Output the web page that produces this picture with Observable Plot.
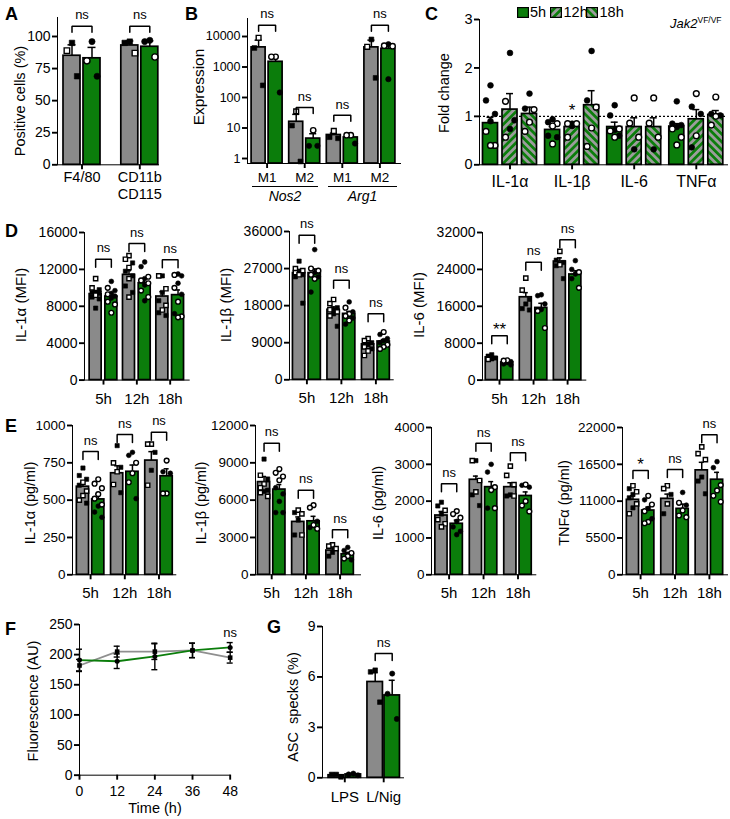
<!DOCTYPE html>
<html>
<head>
<meta charset="utf-8">
<script src="https://cdn.jsdelivr.net/npm/d3@7"></script>
<script src="https://cdn.jsdelivr.net/npm/@observablehq/plot@0.6"></script>
<style>
html,body{margin:0;padding:0;background:#fff;}
#fig{position:relative;width:730px;height:819px;overflow:hidden;font-family:"Liberation Sans",Arial,Helvetica,sans-serif;color:#000;background:#fff;}
#fig svg.chart{position:absolute;background:none;overflow:visible;max-width:none;}
#fig svg.chart g[aria-label*="axis"] line,#fig svg.chart g[aria-label*="axis"] path{stroke-width:1.9px;}
.t{position:absolute;white-space:nowrap;line-height:1;}
.c{transform:translate(-50%,-50%);}
.r{transform:translate(-50%,-50%) rotate(-90deg);}
.L{font-weight:bold;font-size:18px;}
.ul{position:absolute;height:0;border-top:1.3px solid #000;}
</style>
</head>
<body>
<svg width="0" height="0" style="position:absolute">
<defs>
<pattern id="p12" patternUnits="userSpaceOnUse" width="5.5" height="5.5" patternTransform="rotate(45)"><rect width="5.5" height="5.5" fill="#0b7d0b"/><rect width="2.75" height="5.5" fill="#9c9c9c"/></pattern>
<pattern id="p18" patternUnits="userSpaceOnUse" width="5.5" height="5.5" patternTransform="rotate(-45)"><rect width="5.5" height="5.5" fill="#0b7d0b"/><rect width="2.75" height="5.5" fill="#9c9c9c"/></pattern>
</defs>
</svg>
<div id="fig"></div>
<script>
// ---------------- DATA ----------------
// A
const aGroups = ["F4/80", "CD11b\nCD115"];
const aCtrlMean = [85, 93], aCtrlSem = [8.5, 3.5];
const aVfMean = [83, 92], aVfSem = [8.5, 4.5];
const aCtrlFilled = [[95, 69], [96, 95]], aCtrlOpen = [[89], [87]];
const aVfFilled = [[96, 69], [97, 96]], aVfOpen = [[81], [84]];
const aSig = ["ns", "ns"];
// B
const bGroups = ["M1", "M2", "M1", "M2"];
const bGenes = ["Nos2", "Arg1"];
const bCtrlMean = [4400, 16, 5.9, 4400], bCtrlSem = [3200, 12, 0.9, 3200];
const bVfMean = [1480, 4.5, 4.9, 3950], bVfSem = [700, 2, 0.9, 1300];
const bCtrlFilled = [[4200, 250], [12, 0.8], [5, 4.6], [8000, 440]];
const bCtrlOpen = [[9100], [35], [8], [4600]];
const bVfFilled = [[146], [2.6, 2.6], [3.1], [5600, 400]];
const bVfOpen = [[2150, 2150], [8.4], [5.8, 5.8], [5000, 4800]];
const bSig = ["ns", "ns", "ns", "ns"];
// C
const cGroups = ["IL-1α", "IL-1β", "IL-6", "TNFα"];
const cTimes = ["5h", "12h", "18h"];
const c5Mean = [0.86, 0.72, 0.78, 0.79], c5Sem = [0.12, 0.07, 0.10, 0.06];
const c12Mean = [1.14, 0.78, 0.78, 0.94], c12Sem = [0.33, 0.02, 0.19, 0.20];
const c18Mean = [1.05, 1.23, 0.78, 1.03], c18Sem = [0.14, 0.30, 0.19, 0.09];
const c5Filled = [[1.64, 1.33, 1.05, 0.9], [0.94, 0.88, 0.60, 0.57], [1.23, 1.02, 0.72, 0.60], [1.31, 0.85, 0.82, 0.78]];
const c5Open = [[0.69, 0.40, 0.40], [0.85, 0.80, 0.43], [0.74, 0.70, 0.57], [0.74, 0.57, 0.41]];
const c12Filled = [[2.31, 0.92, 0.74], [0.85, 0.80], [0.32], [1.2, 1.05, 0.36]];
const c12Open = [[1.31, 0.57], [0.85, 0.85, 0.57], [1.38, 0.86, 0.57], [1.47, 0.6]];
const c18Filled = [[1.47, 1.16], [2.35, 1.33], [0.32], [1.05, 1.02]];
const c18Open = [[1.14, 0.88, 0.69], [1.19, 0.76, 0.38], [1.38, 0.86, 0.57], [1.40, 1.0, 0.82]];
const cBaseline = 1;
const cStar = "*";
// D / E time groups
const hours = ["5h", "12h", "18h"];
// D1 IL-1α MFI
const d1CtrlMean = [9320, 11410, 9060], d1CtrlSem = [380, 450, 520];
const d1VfMean = [9060, 10500, 9210], d1VfSem = [330, 500, 560];
const d1CtrlFilled = [[9500, 9800, 9500, 9400, 9000, 8800, 7800], [12700, 11800, 11300, 10200, 9500], [11300, 9500, 8600, 7300, 7000]];
const d1CtrlOpen = [[11000, 10000, 9200], [13500, 13100, 12200, 11000, 9000], [11300, 9900, 8100, 7600]];
const d1VfFilled = [[10700, 9700, 9400, 9100, 8900], [12800, 12300, 11000, 10300, 8600], [11500, 11300, 10500, 9300, 7200]];
const d1VfOpen = [[10000, 9300, 8500, 8200, 7300], [11200, 10800, 10500, 9700, 9000], [11400, 10000, 8500, 6800, 6900]];
const d1Sig = ["ns", "ns", "ns"];
// D2 IL-1β MFI
const d2CtrlMean = [25900, 17000, 8600], d2CtrlSem = [900, 700, 500];
const d2VfMean = [25900, 16000, 9300], d2VfSem = [1000, 600, 450];
const d2CtrlFilled = [[28800, 26000, 25500, 25000, 18600], [17500, 17000, 16000, 13000], [9000, 8500, 7500]];
const d2CtrlOpen = [[27000, 26500, 26000, 25500], [19500, 18500, 17000, 16500, 15500], [10000, 9500, 8000, 7000, 5900]];
const d2VfFilled = [[31600, 26000, 25000, 21300], [18900, 16500, 15000, 13500], [11000, 10000, 9500, 9000]];
const d2VfOpen = [[27000, 26500, 25500, 24500], [17500, 16000, 15500, 14400], [11600, 8500, 8000, 7500]];
const d2Sig = ["ns", "ns", "ns"];
// D3 IL-6 MFI
const d3CtrlMean = [4920, 17960, 25700], d3CtrlSem = [200, 1000, 800];
const d3VfMean = [3830, 15650, 22900], d3VfSem = [180, 1000, 800];
const d3CtrlFilled = [[5500, 5200, 4800, 4600], [17500, 16500, 15500, 15200], [26000, 25500, 24800, 22000]];
const d3CtrlOpen = [[4500], [22100, 19500], [27900, 25000]];
const d3VfFilled = [[4000, 3800, 3500, 3300], [18500, 18300, 16500, 15300], [25900, 24000, 23000, 22000]];
const d3VfOpen = [[4300, 4200], [15000, 11300], [23400, 20000]];
const d3Sig = ["**", "ns", "ns"];
// E1 IL-1α pg/ml
const e1CtrlMean = [590, 680, 765], e1CtrlSem = [30, 50, 60];
const e1VfMean = [505, 690, 660], e1VfSem = [35, 45, 50];
const e1CtrlFilled = [[715, 665, 640, 600, 480], [865, 720, 550], [820, 700]];
const e1CtrlOpen = [[620, 560, 530, 500], [750, 690, 605], [875, 875, 600]];
const e1VfFilled = [[460, 420, 385], [820, 800, 510], [690, 680]];
const e1VfOpen = [[640, 610, 580, 540, 510, 470], [750, 680, 620], [765, 545, 545]];
const e1Sig = ["ns", "ns", "ns"];
// E2 IL-1β pg/ml
const e2CtrlMean = [7450, 4250, 1950], e2CtrlSem = [450, 400, 200];
const e2VfMean = [6850, 4300, 1650], e2VfSem = [400, 400, 150];
const e2CtrlFilled = [[9300, 7700, 6800, 6700], [5000, 4400, 3200], [1800, 1500]];
const e2CtrlOpen = [[8000, 7300, 7000, 6600, 6300], [5200, 4900, 3200], [2400, 2300, 2100]];
const e2VfFilled = [[7000, 6500, 5900, 5000, 5000], [4300, 3800], [2200, 1950, 1200]];
const e2VfOpen = [[8500, 8200, 7900, 7600], [5600, 5400, 4000, 3700], [1750, 1500, 1300]];
const e2Sig = ["ns", "ns", "ns"];
// E3 IL-6 pg/ml
const e3CtrlMean = [1610, 2580, 2380], e3CtrlSem = [110, 100, 120];
const e3VfMean = [1385, 2380, 2140], e3VfSem = [100, 150, 110];
const e3CtrlFilled = [[1970, 1870, 1650], [3100, 2170, 1880], [2170, 2140]];
const e3CtrlOpen = [[1750, 1500, 1385, 1300], [3100, 2560, 2250], [2950, 2700, 2450, 2140]];
const e3VfFilled = [[1450, 1300, 1180, 1090], [3000, 2790, 1810], [2430, 2380]];
const e3VfOpen = [[1730, 1650, 1550], [2380, 2300, 1810], [2450, 2000, 1880, 1720]];
const e3Sig = ["ns", "ns", "ns"];
// E4 TNFα pg/ml
const e4CtrlMean = [11200, 11350, 15600], e4CtrlSem = [600, 700, 1200];
const e4VfMean = [9600, 9850, 14200], e4VfSem = [500, 700, 1100];
const e4CtrlFilled = [[12860, 12000, 11500, 10000], [12000, 9120], [14600, 14000, 12100]];
const e4CtrlOpen = [[13300, 12400, 10600, 9120], [13300, 12860, 10600], [19100, 18100, 17200]];
const e4VfFilled = [[11200, 9900, 8370], [12300, 10400], [16900, 16000]];
const e4VfOpen = [[11800, 10500, 9500, 7900, 7700], [10750, 9610, 8860, 8600], [13400, 12600, 11800, 10900]];
const e4Sig = ["*", "ns", "ns"];
// F
const fTime = [0, 12, 24, 36, 48];
const fCtrl = [182, 205, 205, 207, 195], fCtrlSem = [10, 9, 13, 12, 9];
const fVf = [191, 189, 197, 207, 212], fVfSem = [18, 12, 22, 12, 8];
const fSig = "ns";
// G
const gGroups = ["LPS", "L/Nig"];
const gCtrlMean = [0.15, 5.7], gCtrlSem = [0.05, 0.55];
const gVfMean = [0.2, 4.9], gVfSem = [0.04, 0.9];
const gCtrlFilled = [[0.05, 0.2, 0.2], [6.4, 6.3, 4.5]];
const gVfFilled = [[0.15, 0.25, 0.2], [6.2, 5.0, 3.5]];
const gSig = ["", "ns"];

// ---------------- STYLE / LAYOUT ----------------
const GRAY = "#8a8a8a", GREEN = "#0b7d0b";
const FONT = '"Liberation Sans", Arial, Helvetica, sans-serif';
const fig = document.getElementById("fig");
const JIT = [0, -1, 1];

function txt(html, x, y, cls, size, extra) {
  const d = document.createElement("div");
  d.className = "t " + (cls || "");
  d.innerHTML = html;
  d.style.left = x + "px";
  d.style.top = y + "px";
  if (size) d.style.fontSize = size + "px";
  if (extra) Object.assign(d.style, extra);
  fig.appendChild(d);
  return d;
}
const ser = (mean, sem, filled, open, fill, symbol) => ({mean, sem, filled, open, fill, symbol});

function barChart(L, groups, series, sig, extra) {
  const ml = 60, mr = 14, mt = 34, mb = 46;
  const width = L.x1 - L.x0 + ml + mr, height = L.base - L.top + mt + mb;
  const k = series.length;
  const u = px => px / L.step;
  const off = j => (j - (k - 1) / 2) * L.sep;
  const y0 = L.yDomain[0];
  const yS = (L.yType === "log" ? d3.scaleLog() : d3.scaleLinear()).domain(L.yDomain).range([L.base, L.top]);
  const marks = [];
  if (extra && extra.before) marks.push(...extra.before(u, off));
  series.forEach((s, j) => {
    const rows = groups.map((g, i) => ({i, m: s.mean[i], e: s.mean[i] + s.sem[i], c: i + u(off(j))}));
    marks.push(Plot.ruleX(rows, {x: "c", y1: "m", y2: "e", stroke: "black", strokeWidth: 1.5}));
    marks.push(Plot.ruleY(rows, {y: "e", x1: d => d.c - u(L.capW / 2), x2: d => d.c + u(L.capW / 2), stroke: "black", strokeWidth: 1.5}));
    marks.push(Plot.rectY(rows, {x1: d => d.c - u(L.barW / 2), x2: d => d.c + u(L.barW / 2), y1: () => y0, y2: "m", fill: s.fill, stroke: "black", strokeWidth: 1.7}));
    const pts = [];
    groups.forEach((g, i) => {
      const all = [...((s.filled && s.filled[i]) || []).map(v => ({v, o: false})),
                   ...((s.open && s.open[i]) || []).map(v => ({v, o: true}))].sort((a, b) => b.v - a.v);
      all.forEach((p, m) => pts.push({x: i + u(off(j) + JIT[m % 3] * L.barW * 0.3), y: p.v, o: p.o}));
    });
    marks.push(Plot.dot(pts.filter(p => !p.o), {x: "x", y: "y", symbol: s.symbol, r: L.r, fill: "black", stroke: "black", strokeWidth: 0.6}));
    marks.push(Plot.dot(pts.filter(p => p.o), {x: "x", y: "y", symbol: s.symbol, r: L.r, fill: "white", stroke: "black", strokeWidth: 1.4}));
  });
  if (sig) {
    const segs = [], lab = [];
    groups.forEach((g, i) => {
      if (!sig[i] || L.sigY[i] == null) return;
      const by = L.sigY[i], lb = yS.invert(yS(by) + L.leg);
      const a = i + u(off(0)), b = i + u(off(k - 1));
      segs.push({i, x: a, y: lb}, {i, x: a, y: by}, {i, x: b, y: by}, {i, x: b, y: lb});
      lab.push({x: i, y: by, t: sig[i], star: sig[i].includes("*")});
    });
    marks.push(Plot.line(segs, {x: "x", y: "y", z: "i", stroke: "black", strokeWidth: 1.5, strokeLinejoin: "miter"}));
    marks.push(Plot.text(lab.filter(d => !d.star), {x: "x", y: "y", text: "t", dy: -11, fontSize: 13}));
    marks.push(Plot.text(lab.filter(d => d.star), {x: "x", y: "y", text: "t", dy: -6, fontSize: 17}));
  }
  if (extra && extra.after) marks.push(...extra.after(u, off));
  marks.push(Plot.text(groups.map((g, i) => ({x: i, t: g})), {x: "x", y: () => y0, text: "t", dy: L.labelDy, lineAnchor: "top", fontSize: L.labelFont, lineHeight: 1.2}));
  const svg = Plot.plot({
    width, height, marginLeft: ml, marginRight: mr, marginTop: mt, marginBottom: mb,
    style: `font-family:${FONT};font-size:${L.tickFont}px;color:#000;background:none;overflow:visible;max-width:none;`,
    x: {type: "linear", domain: [(L.x0 - L.c0) / L.step, (L.x1 - L.c0) / L.step], ticks: groups.map((g, i) => i), tickFormat: () => "", tickSize: L.xTick == null ? 5 : L.xTick, line: true, label: null},
    y: {type: L.yType || "linear", domain: L.yDomain, ticks: L.yTicks, tickFormat: d => String(d), tickSize: 5, tickPadding: 2, line: true, label: null},
    marks
  });
  svg.classList.add("chart");
  svg.style.left = (L.x0 - ml) + "px";
  svg.style.top = (L.top - mt) + "px";
  fig.appendChild(svg);
}

const two = (cm, cs, cf, co, vm, vs, vf, vo) => [ser(cm, cs, cf, co, GRAY, "square"), ser(vm, vs, vf, vo, GREEN, "circle")];

// A
barChart({x0: 57, x1: 158, top: 16.7, base: 164, yDomain: [0, 114.8], yTicks: [0, 25, 50, 75, 100], c0: 81.5, step: 57.8, barW: 17, sep: 20, capW: 8, r: 3.1, tickFont: 14, labelDy: 4.5, labelFont: 14.5, leg: 6, sigY: [108, 108]},
  aGroups, two(aCtrlMean, aCtrlSem, aCtrlFilled, aCtrlOpen, aVfMean, aVfSem, aVfFilled, aVfOpen), aSig);
// B
barChart({x0: 247, x1: 400, top: 18.3, base: 163.3, yType: "log", yDomain: [0.686, 38900], yTicks: [1, 10, 100, 1000, 10000], c0: 266.6, step: 37.6, barW: 14, sep: 17, capW: 7, r: 2.7, tickFont: 12.5, labelDy: 6.7, labelFont: 13.5, leg: 6, sigY: [23500, 47, 26, 23500]},
  bGroups, two(bCtrlMean, bCtrlSem, bCtrlFilled, bCtrlOpen, bVfMean, bVfSem, bVfFilled, bVfOpen), bSig);
// C
barChart({x0: 479, x1: 727, top: 19, base: 164.3, yDomain: [0, 3], yTicks: [0, 1, 2, 3], c0: 509.5, step: 62.1, barW: 15, sep: 19.5, capW: 7, r: 2.9, tickFont: 14.5, labelDy: 9, labelFont: 16},
  cGroups, [ser(c5Mean, c5Sem, c5Filled, c5Open, GREEN, "circle"), ser(c12Mean, c12Sem, c12Filled, c12Open, "url(#p12)", "circle"), ser(c18Mean, c18Sem, c18Filled, c18Open, "url(#p18)", "circle")], null,
  {before: () => [Plot.ruleY([cBaseline], {stroke: "black", strokeWidth: 1.1, strokeDasharray: "2,2"})],
   after: (u, off) => [Plot.text([{x: 1 + u(off(1)), y: 1.11}], {x: "x", y: "y", text: () => cStar, fontSize: 17})]});
// D
const dBase = {top: 231.7, base: 379.3, barW: 12, sep: 15.7, capW: 5, r: 2.4, tickFont: 14, labelDy: 10.7, labelFont: 15, leg: 8};
barChart({...dBase, x0: 84.3, x1: 189, yDomain: [0, 16000], yTicks: [0, 4000, 8000, 12000, 16000], c0: 103.3, step: 33.35, sigY: [13100, 14800, 13050]},
  hours, two(d1CtrlMean, d1CtrlSem, d1CtrlFilled, d1CtrlOpen, d1VfMean, d1VfSem, d1VfFilled, d1VfOpen), d1Sig);
barChart({...dBase, x0: 289.3, x1: 393, top: 231, yDomain: [0, 36000], yTicks: [0, 9000, 18000, 27000, 36000], c0: 306.7, step: 34.5, barW: 12.3, sep: 15.6, sigY: [35100, 24150, 16050]},
  hours, two(d2CtrlMean, d2CtrlSem, d2CtrlFilled, d2CtrlOpen, d2VfMean, d2VfSem, d2VfFilled, d2VfOpen), d2Sig);
barChart({...dBase, x0: 481.7, x1: 585, yDomain: [0, 32000], yTicks: [0, 8000, 16000, 24000, 32000], c0: 498.7, step: 34.05, sep: 15.5, sigY: [9630, 25570, 30440]},
  hours, two(d3CtrlMean, d3CtrlSem, d3CtrlFilled, d3CtrlOpen, d3VfMean, d3VfSem, d3VfFilled, d3VfOpen), d3Sig);
// E
const eBase = {top: 425, base: 574.3, barW: 12.2, sep: 15.3, capW: 5, r: 2.4, tickFont: 13.5, labelDy: 10.7, labelFont: 15, leg: 8};
barChart({...eBase, x0: 71.7, x1: 175, yDomain: [0, 1000], yTicks: [0, 250, 500, 750, 1000], c0: 89.8, step: 34.2, sigY: [826, 940, 955]},
  hours, two(e1CtrlMean, e1CtrlSem, e1CtrlFilled, e1CtrlOpen, e1VfMean, e1VfSem, e1VfFilled, e1VfOpen), e1Sig);
barChart({...eBase, x0: 255, x1: 360, yDomain: [0, 12000], yTicks: [0, 3000, 6000, 9000, 12000], c0: 271.2, step: 34.2, sigY: [10580, 6800, 3630]},
  hours, two(e2CtrlMean, e2CtrlSem, e2CtrlFilled, e2CtrlOpen, e2VfMean, e2VfSem, e2VfFilled, e2VfOpen), e2Sig);
barChart({...eBase, x0: 430.7, x1: 535, top: 427, yDomain: [0, 4000], yTicks: [0, 1000, 2000, 3000, 4000], c0: 448.3, step: 34.45, sigY: [2470, 3570, 3315]},
  hours, two(e3CtrlMean, e3CtrlSem, e3CtrlFilled, e3CtrlOpen, e3VfMean, e3VfSem, e3VfFilled, e3VfOpen), e3Sig);
barChart({...eBase, x0: 621.7, x1: 726.7, top: 427, yDomain: [0, 22000], yTicks: [0, 5500, 11000, 16500, 22000], c0: 639.8, step: 34.4, sigY: [15590, 15740, 20930]},
  hours, two(e4CtrlMean, e4CtrlSem, e4CtrlFilled, e4CtrlOpen, e4VfMean, e4VfSem, e4VfFilled, e4VfOpen), e4Sig);
// G
barChart({x0: 321.7, x1: 402.7, top: 626, base: 777.3, yDomain: [0, 9], yTicks: [0, 3, 6, 9], c0: 344, step: 38.9, barW: 15.5, sep: 17, capW: 6, r: 2.6, tickFont: 14, labelDy: 11, labelFont: 15, leg: 7, sigY: [null, 7.39]},
  gGroups, two(gCtrlMean, gCtrlSem, gCtrlFilled, null, gVfMean, gVfSem, gVfFilled, null), gSig);

// F line chart
(function () {
  const L = {x0: 79.3, x1: 230, top: 624.3, base: 775};
  const ml = 60, mr = 14, mt = 34, mb = 46;
  const cap = 3 * 48 / (L.x1 - L.x0);
  const ctrl = fTime.map((t, i) => ({t, m: fCtrl[i], e: fCtrlSem[i]}));
  const vf = fTime.map((t, i) => ({t, m: fVf[i], e: fVfSem[i]}));
  const all = [...ctrl, ...vf];
  const svg = Plot.plot({
    width: L.x1 - L.x0 + ml + mr, height: L.base - L.top + mt + mb,
    marginLeft: ml, marginRight: mr, marginTop: mt, marginBottom: mb,
    style: `font-family:${FONT};font-size:14px;color:#000;background:none;overflow:visible;max-width:none;`,
    x: {domain: [0, 48], ticks: fTime, tickSize: 5, tickPadding: 6, line: true, label: null},
    y: {domain: [0, 250], ticks: [0, 50, 100, 150, 200, 250], tickSize: 5, tickPadding: 2, line: true, label: null},
    marks: [
      Plot.line(ctrl, {x: "t", y: "m", stroke: "#8f8f8f", strokeWidth: 1.8}),
      Plot.line(vf, {x: "t", y: "m", stroke: GREEN, strokeWidth: 1.8}),
      Plot.ruleX(all, {x: "t", y1: d => d.m - d.e, y2: d => d.m + d.e, stroke: "black", strokeWidth: 1.4}),
      Plot.ruleY(all, {y: d => d.m + d.e, x1: d => d.t - cap, x2: d => d.t + cap, stroke: "black", strokeWidth: 1.4}),
      Plot.ruleY(all, {y: d => d.m - d.e, x1: d => d.t - cap, x2: d => d.t + cap, stroke: "black", strokeWidth: 1.4}),
      Plot.dot(ctrl, {x: "t", y: "m", symbol: "square", r: 2.6, fill: "black"}),
      Plot.dot(vf, {x: "t", y: "m", symbol: "circle", r: 2.5, fill: "black"}),
      Plot.text([{t: 48, y: 236}], {x: "t", y: "y", text: () => fSig, fontSize: 13})
    ]
  });
  svg.classList.add("chart");
  svg.style.left = (L.x0 - ml) + "px";
  svg.style.top = (L.top - mt) + "px";
  fig.appendChild(svg);
})();

// ---------------- HTML TEXT ----------------
[["A", 5, 4.8], ["B", 185, 4.8], ["C", 425, 4.8], ["D", 5, 221.5], ["E", 5, 416.5], ["F", 5, 619.8], ["G", 267, 618]]
  .forEach(([s, x, y]) => txt(s, x, y, "L"));
[["Positive cells (%)", 19.5, 101, 14.5], ["Expression", 199, 87, 15.5], ["Fold change", 444, 92.5, 14.5],
 ["IL-1α (MFI)", 19.5, 305, 15], ["IL-1β (MFI)", 225, 305, 15], ["IL-6 (MFI)", 417.5, 305, 15],
 ["IL-1α (pg/ml)", 30, 503, 14.5], ["IL-1β (pg/ml)", 201, 503, 14.5], ["IL-6 (pg/ml)", 377.5, 503, 14.5], ["TNFα (pg/ml)", 564, 503, 14.5],
 ["Fluorescence (AU)", 32.5, 701, 14.5], ["ASC&nbsp;&nbsp;specks (%)", 292.5, 707, 14.5]]
  .forEach(([s, x, y, f]) => txt(s, x, y, "r", f));
// B gene groupings
const ul1 = document.createElement("div"); ul1.className = "ul"; Object.assign(ul1.style, {left: "251.7px", top: "186px", width: "66.5px"}); fig.appendChild(ul1);
const ul2 = document.createElement("div"); ul2.className = "ul"; Object.assign(ul2.style, {left: "328px", top: "186px", width: "69px"}); fig.appendChild(ul2);
txt(bGenes[0], 285, 195.5, "c", 14, {fontStyle: "italic"});
txt(bGenes[1], 362.5, 195.5, "c", 14, {fontStyle: "italic"});
// C legend
const fills = [GREEN, "url(#p12)", "url(#p18)"];
[[516.7, 530], [550, 563.5], [586, 599.5]].forEach(([sx, tx], i) => {
  const s = document.createElementNS("http://www.w3.org/2000/svg", "svg");
  s.setAttribute("width", 12); s.setAttribute("height", 11);
  s.style.position = "absolute"; s.style.left = sx + "px"; s.style.top = "6.5px";
  s.innerHTML = `<rect x="0.6" y="0.6" width="10.8" height="9.8" fill="${fills[i]}" stroke="black" stroke-width="1.2"/>`;
  fig.appendChild(s);
  txt(cTimes[i], tx, 5, "", 14.5);
});
txt('<i>Jak2</i><sup style="font-size:8.5px;vertical-align:5px">VF/VF</sup>', 670, 16, "", 13);
txt("Time (h)", 155, 808, "c", 14.5);
</script>
</body>
</html>
